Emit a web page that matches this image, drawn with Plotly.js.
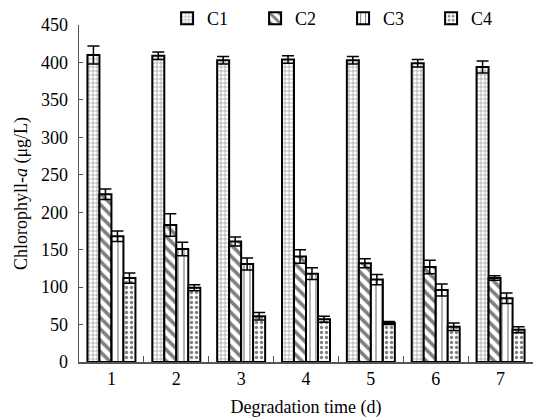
<!DOCTYPE html>
<html><head><meta charset="utf-8">
<script src="https://cdn.plot.ly/plotly-3.0.1.min.js"></script>
<style>html,body{margin:0;padding:0;background:#fff}#chart{width:534px;height:419px}</style>
</head><body><div id="chart"></div>
<script>
const days = ["1","2","3","4","5","6","7"];
const seriesNames = ["C1","C2","C3","C4"];
const c1 = [410, 409, 403, 404, 403, 399, 394];
const c2 = [224, 183, 161, 141, 132, 127, 112];
const c3 = [168, 151, 131, 118, 110, 96, 85];
const c4 = [112, 99, 61, 57, 52, 47, 43];
const c1Err = [12, 5, 5, 5, 5, 5, 8];
const c2Err = [7, 15, 6, 9, 6, 9, 3];
const c3Err = [7, 9, 8, 8, 7, 8, 7];
const c4Err = [7, 4, 5, 4, 2, 5, 4];

const values = [c1, c2, c3, c4];
const errs = [c1Err, c2Err, c3Err, c4Err];
const shapes = ["+", "\\", "|", "."];
const sizes = [4, 8, 6, 5];
const solid = [0.25, 0.45, 0.2, 0.35];

const traces = values.map((v, i) => ({
  type: "bar",
  name: seriesNames[i],
  x: days,
  y: v,
  error_y: {type: "data", array: errs[i], visible: true, color: "#000", thickness: 1.5, width: 6},
  marker: {
    color: "#fff",
    line: {color: "#000", width: 2},
    pattern: {shape: shapes[i], fgcolor: "#000", bgcolor: "#fff", size: sizes[i], solidity: solid[i], fillmode: "overlay"}
  }
}));

const fam = "Liberation Serif, Times New Roman, serif";
const font = {family: fam, size: 18, color: "#000"};
const layout = {
  width: 534, height: 419,
  margin: {l: 79, r: 1, t: 0, b: 57},
  paper_bgcolor: "#fff", plot_bgcolor: "#fff",
  font: font,
  barmode: "group", bargap: 0.26, bargroupgap: 0,
  showlegend: true,
  legend: {orientation: "h", x: 0.194, xanchor: "left",
           y: 1, yanchor: "top",
           entrywidth: 43, entrywidthmode: "pixels",
           font: {family: fam, size: 18}, itemwidth: 30, tracegroupgap: 0, bgcolor: "rgba(0,0,0,0)"},
  xaxis: {
    type: "category", tickson: "boundaries", ticks: "inside", ticklen: 6, tickcolor: "#555",
    showline: true, linecolor: "#555", linewidth: 1.5, showgrid: false, zeroline: false,
    tickfont: font,
    title: {text: "Degradation time (d)", font: font, standoff: 12}
  },
  yaxis: {
    domain: [0, 0.931],
    range: [0, 450], dtick: 50, ticks: "inside", ticklen: 4, tickcolor: "#555",
    showline: true, linecolor: "#555", linewidth: 1.5, showgrid: false, zeroline: false,
    tickfont: font, ticklabelstandoff: 6,
    title: {text: "Chlorophyll-<i>a</i> (μg/L)", font: font, standoff: 8}
  }
};
Plotly.newPlot("chart", traces, layout, {staticPlot: true});
</script></body></html>
